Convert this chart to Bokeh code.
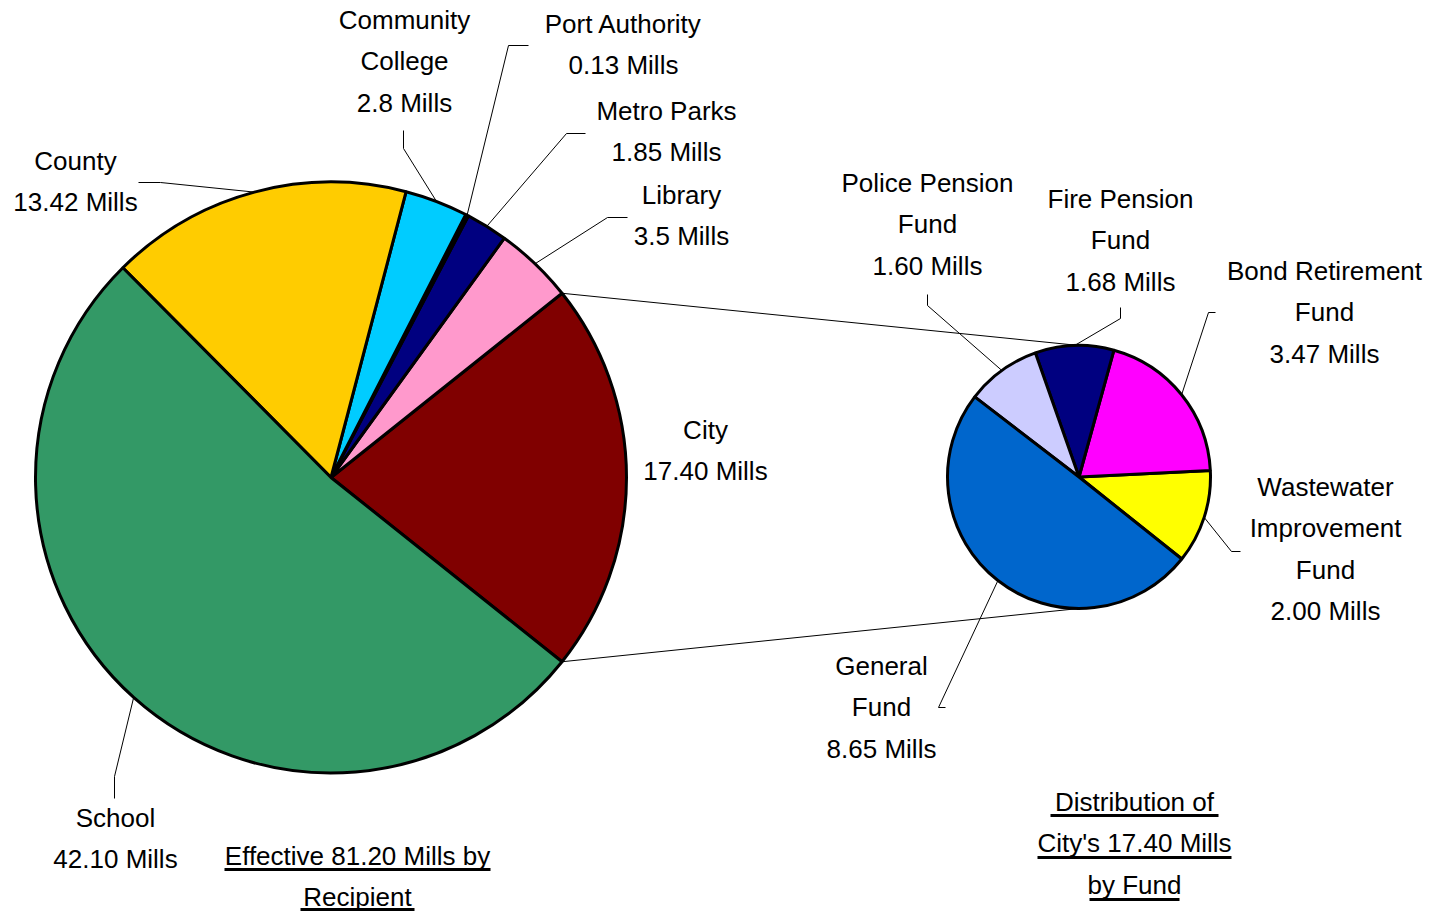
import math
from bokeh.plotting import figure
from bokeh.models import Range1d, ColumnDataSource
from bokeh.embed import file_html
from bokeh.resources import INLINE
from bokeh.core.properties import value

# ---------------- data ----------------
main_categories = ["City", "Library", "Metro Parks", "Port Authority",
                   "Community College", "County", "School"]
main_values = [17.40, 3.5, 1.85, 0.13, 2.8, 13.42, 42.10]
main_label_names = ["City", "Library", "Metro Parks", "Port Authority",
                    "Community\nCollege", "County", "School"]
main_value_labels = ["17.40 Mills", "3.5 Mills", "1.85 Mills", "0.13 Mills",
                     "2.8 Mills", "13.42 Mills", "42.10 Mills"]

city_categories = ["Wastewater Improvement Fund", "Bond Retirement Fund",
                   "Fire Pension Fund", "Police Pension Fund", "General Fund"]
city_values = [2.00, 3.47, 1.68, 1.60, 8.65]
city_label_names = ["Wastewater\nImprovement\nFund", "Bond Retirement\nFund",
                    "Fire Pension\nFund", "Police Pension\nFund", "General\nFund"]
city_value_labels = ["2.00 Mills", "3.47 Mills", "1.68 Mills", "1.60 Mills",
                     "8.65 Mills"]

title_main = ["Effective 81.20 Mills by", "Recipient"]
title_city = ["Distribution of", "City's 17.40 Mills", "by Fund"]

# ---------------- styles / layout ----------------
main_colors = ["#800000", "#FF99CC", "#000080", "#993366", "#00CCFF",
               "#FFCC00", "#339966"]
city_colors = ["#FFFF00", "#FF00FF", "#000080", "#CCCCFF", "#0066CC"]

W, H = 1441, 911
def Y(v):
    return H - v

MAIN_C = (330.5, 477.0)
MAIN_R = 295.5
SEC_C = (1078.5, 476.5)
SEC_R = 131.5
LINE_GAP = 41.5
FONT = value("Liberation Sans")
FSIZE = "26px"

# label anchor (center of first line) in page pixels, per slice
main_label_pos = [(705, 429), (681, 194), (666, 110), (623, 23),
                  (404, 19), (75, 160), (115, 817)]
# leader elbows (label end, elbow); None = no leader
main_leaders = [None, [(627, 217), (607, 217)], [(585, 133), (566, 133)],
                [(528, 45), (508, 45)], [(403, 130), (403, 148)],
                [(138, 182), (160, 182)], [(114, 798), (114, 776)]]

city_label_pos = [(1325, 486), (1324, 270), (1120, 198), (927, 182), (881, 665)]
city_leaders = [[(1240, 551), (1231, 551)], [(1215, 312), (1208, 312)],
                [(1120, 307), (1120, 318)], [(927, 294), (927, 305)],
                [(945, 707), (938, 707)]]

# ---------------- figure ----------------
p = figure(width=W, height=H, x_range=Range1d(0, W),
           y_range=Range1d(0, H), output_backend="svg",
           toolbar_location=None, x_axis_type=None, y_axis_type=None,
           min_border=0)
p.outline_line_color = None
p.background_fill_color = "white"
p.border_fill_color = "white"


def wedges(values, start, cx, cy, r, colors):
    total = sum(values)
    starts, ends, mids = [], [], []
    a = start
    for v in values:
        da = v / total * 2 * math.pi
        starts.append(a)
        ends.append(a + da)
        mids.append(a + da / 2)
        a += da
    src = ColumnDataSource(dict(x=[cx] * len(values), y=[Y(cy)] * len(values),
                                s=starts, e=ends, c=colors))
    p.wedge(x="x", y="y", radius=r, start_angle="s", end_angle="e",
            fill_color="c", line_color="black", line_width=3, source=src)
    return starts, ends, mids


main_total = sum(main_values)
city_angle = main_values[0] / main_total * 2 * math.pi
start0 = -city_angle / 2

m_s, m_e, m_mid = wedges(main_values, start0, MAIN_C[0], MAIN_C[1], MAIN_R, main_colors)
c_s, c_e, c_mid = wedges(city_values, start0, SEC_C[0], SEC_C[1], SEC_R, city_colors)

# connector lines: city slice edges -> top / bottom of secondary pie
xs = [[MAIN_C[0] + MAIN_R * math.cos(m_e[0]), SEC_C[0]],
      [MAIN_C[0] + MAIN_R * math.cos(m_s[0]), SEC_C[0]]]
ys = [[Y(MAIN_C[1]) + MAIN_R * math.sin(m_e[0]), Y(SEC_C[1]) + SEC_R],
      [Y(MAIN_C[1]) + MAIN_R * math.sin(m_s[0]), Y(SEC_C[1]) - SEC_R]]
p.multi_line(xs=xs, ys=ys, line_color="black", line_width=1)

# leader lines
lx, ly = [], []
for leaders, mids, c, r in ((main_leaders, m_mid, MAIN_C, MAIN_R),
                            (city_leaders, c_mid, SEC_C, SEC_R)):
    for ld, a in zip(leaders, mids):
        if ld is None:
            continue
        px = c[0] + r * math.cos(a)
        py = Y(c[1]) + r * math.sin(a)
        lx.append([ld[0][0], ld[1][0], px])
        ly.append([Y(ld[0][1]), Y(ld[1][1]), py])
p.multi_line(xs=lx, ys=ly, line_color="black", line_width=1)

# labels
tx, ty, tt = [], [], []
for names, vals, poss in ((main_label_names, main_value_labels, main_label_pos),
                          (city_label_names, city_value_labels, city_label_pos)):
    for n, v, (x0, y0) in zip(names, vals, poss):
        lines = n.split("\n") + [v]
        for i, ln in enumerate(lines):
            tx.append(x0)
            ty.append(Y(y0 + i * LINE_GAP))
            tt.append(ln)

# titles
title_pos = [((357, 855), title_main), ((1134, 801), title_city)]
for (x0, y0), lines in title_pos:
    for i, ln in enumerate(lines):
        tx.append(x0)
        ty.append(Y(y0 + i * LINE_GAP))
        tt.append(ln)

p.text(x=tx, y=ty, text=tt, text_font=FONT, text_font_size=FSIZE,
       text_align="center", text_baseline="middle", text_color="black")

# underlines for the titles (center x, half width, y)
ul = [(357, 133, 869), (357, 57, 909),
      (1134, 84, 815), (1134, 97, 857), (1134, 45, 899)]
p.multi_line(xs=[[c - w, c + w] for c, w, _ in ul], ys=[[Y(y), Y(y)] for _, _, y in ul],
             line_color="black", line_width=3)

open("out.html", "w").write(file_html(p, INLINE))
